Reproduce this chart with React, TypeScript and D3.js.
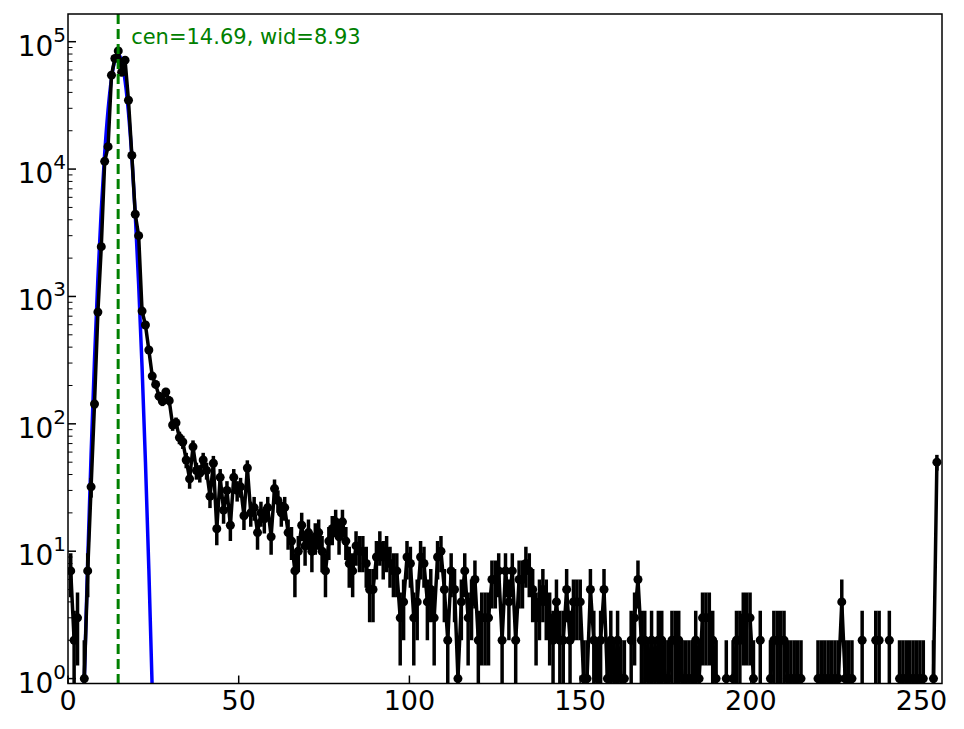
import * as d3 from 'd3';

// histogram counts per bin (256 bins)
const counts = [
  7, 2, 3, 0, 1, 7, 32, 143, 754, 2460,
  11500, 15000, 54600, 73800, 84700, 57600, 71600, 34700, 12800, 4420,
  3000, 768, 597, 380, 237, 204, 165, 150, 178, 152,
  98, 102, 78, 72, 52, 37, 66, 43, 41, 52,
  43, 27, 49, 15, 38, 21, 30, 16, 38, 30,
  32, 19, 45, 20, 22, 14, 20, 18, 22, 13,
  31, 25, 20, 22, 14, 12, 7, 10, 16, 11,
  14, 10, 13, 14, 10, 7, 12, 15, 17, 13,
  17, 12, 8, 7, 11, 10, 10, 8, 5, 5,
  9, 11, 9, 10, 8, 7, 7, 3, 4, 9,
  8, 3, 4, 9, 8, 4, 5, 3, 9, 10,
  5, 2, 7, 5, 1, 4, 7, 3, 4, 6,
  2, 3, 3, 3, 6, 6, 7, 2, 7, 4,
  7, 2, 6, 6, 8, 7, 5, 3, 4, 5,
  4, 3, 2, 4, 2, 2, 5, 2, 4, 4,
  4, 1, 1, 5, 2, 1, 2, 5, 1, 2,
  1, 2, 1, 1, 0, 2, 3, 6, 2, 2,
  1, 2, 1, 2, 2, 1, 1, 2, 2, 2,
  1, 1, 1, 1, 2, 1, 3, 3, 3, 2,
  1, 0, 0, 1, 0, 1, 2, 2, 3, 3,
  3, 1, 0, 2, 0, 0, 1, 2, 2, 2,
  2, 1, 1, 1, 1, 1, 0, 0, 0, 0,
  1, 1, 1, 1, 1, 1, 1, 4, 1, 1,
  1, 0, 0, 2, 0, 0, 0, 2, 2, 0,
  0, 2, 0, 0, 1, 1, 1, 1, 1, 1,
  1, 1, 0, 0, 1, 50,
];

// histogram range the bins were built on
const binRange: [number, number] = [0.3, 255.0];

// gaussian fit, sampled at bins 3..25
const fitBins = [3, 4, 5, 6, 7, 8, 9, 10, 11, 12, 13, 14, 15, 16, 17, 18, 19, 20, 21, 22, 23, 24, 25];
const fitValues = [
  0.09, 0.98, 8.4, 58, 318, 1387, 4810, 13300, 29250, 51300, 71500, 79400,
  70200, 49400, 27700, 12400, 4390, 1240, 280, 50, 7.2, 0.81, 0.074,
];

const fitCenter = 14.69;
const fitLabel = 'cen=14.69, wid=8.93';

const xTicks = [0, 50, 100, 150, 200, 250];
const yDecades = [0, 1, 2, 3, 4, 5];

const W = 964;
const H = 729;
const left = 68;
const right = 942;
const top = 14;
const bottom = 683.5;
const font = 'DejaVu Sans, sans-serif';

export default function App() {
  const x = d3.scaleLinear().domain([0, 256]).range([left, right]);
  const y = d3.scaleLog().domain([0.915, 1.65e5]).range([bottom, top]);

  const binW = (binRange[1] - binRange[0]) / counts.length;
  const pts = counts.map((v, i) => ({ x: binRange[0] + (i + 0.5) * binW, v }));
  const fitPts = fitBins.map((b, i) => ({ x: binRange[0] + (b + 0.5) * binW, v: fitValues[i] }));

  const line = d3.line<{ x: number; v: number }>()
    .defined((d) => d.v > 0)
    .x((d) => x(d.x))
    .y((d) => y(d.v));

  const fitLine = d3.line<{ x: number; v: number }>()
    .x((d) => x(d.x))
    .y((d) => y(d.v))
    .curve(d3.curveMonotoneX);

  const minor: number[] = [];
  yDecades.forEach((d) => {
    for (let k = 2; k <= 9; k++) {
      const v = k * Math.pow(10, d);
      if (v > y.domain()[0] && v < y.domain()[1]) minor.push(v);
    }
  });

  const cx = x(fitCenter);

  return (
    <svg width={W} height={H} style={{ position: 'absolute', left: 0, top: 0, background: '#fff' }}
      fontFamily={font}>
      <defs>
        <clipPath id="plot">
          <rect x={left} y={top} width={right - left} height={bottom - top} />
        </clipPath>
      </defs>

      <g clipPath="url(#plot)">
        {/* fit */}
        <path d={fitLine(fitPts) ?? ''} fill="none" stroke="#0000ff" strokeWidth={3.5} />

        {/* error bars */}
        {pts.filter((d) => d.v > 0).map((d, i) => {
          const e = Math.sqrt(d.v);
          const lo = Math.max(d.v - e, 1e-3);
          return (
            <line key={i} x1={x(d.x)} x2={x(d.x)} y1={y(lo)} y2={y(d.v + e)}
              stroke="#000" strokeWidth={3.5} />
          );
        })}

        <path d={line(pts) ?? ''} fill="none" stroke="#000" strokeWidth={3.5} strokeLinejoin="round" />

        {pts.filter((d) => d.v > 0).map((d, i) => (
          <circle key={i} cx={x(d.x)} cy={y(d.v)} r={4.5} fill="#000" />
        ))}

        {/* centre line */}
        <line x1={cx} x2={cx} y1={top} y2={bottom} stroke="#008000" strokeWidth={3}
          strokeDasharray="10,5" />
      </g>

      <text x={cx + 13} y={44} fill="#008000" fontSize={21}>{fitLabel}</text>

      {/* frame */}
      <rect x={left} y={top} width={right - left} height={bottom - top} fill="none"
        stroke="#000" strokeWidth={1.5} />

      {/* x ticks */}
      {xTicks.map((t) => (
        <g key={t}>
          <line x1={x(t)} x2={x(t)} y1={bottom} y2={bottom - 8} stroke="#000" strokeWidth={1.5} />
          <text x={x(t)} y={bottom + 26} textAnchor="middle" fontSize={27}>{t}</text>
        </g>
      ))}

      {/* y ticks */}
      {minor.map((v) => (
        <line key={v} x1={left} x2={left + 4.5} y1={y(v)} y2={y(v)} stroke="#000" strokeWidth={1} />
      ))}
      {yDecades.map((d) => {
        const py = y(Math.pow(10, d));
        return (
          <g key={d}>
            <line x1={left} x2={left + 8} y1={py} y2={py} stroke="#000" strokeWidth={1.5} />
            <text x={66} y={py + 14} textAnchor="end" fontSize={28}>
              10<tspan fontSize={20} dy={-14}>{d}</tspan>
            </text>
          </g>
        );
      })}
    </svg>
  );
}
